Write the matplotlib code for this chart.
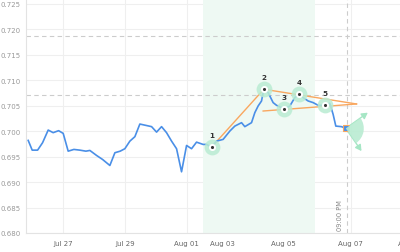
import numpy as np
import matplotlib
matplotlib.use('Agg')
import matplotlib.pyplot as plt
import matplotlib.transforms as mtransforms
from matplotlib.patches import Wedge

#------------------------------------------------------------------------------
# DATA (x in trading-day units on an ordinal axis, Jul 27 = 0)

price_x = [-1.129, -1.0, -0.826, -0.665, -0.484, -0.323, -0.148, 0.0, 0.161, 0.345,
           0.539, 0.732, 0.861, 1.077, 1.271, 1.506, 1.668, 1.839, 1.990, 2.152,
           2.313, 2.474, 2.668, 2.852, 3.013, 3.174, 3.335, 3.497, 3.658, 3.819,
           3.981, 4.142, 4.303, 4.516, 4.626, 4.787, 4.948, 5.161, 5.377, 5.539,
           5.755, 5.861, 6.077, 6.184, 6.290, 6.400, 6.474, 6.613, 6.774, 6.884,
           7.045, 7.129, 7.313, 7.474, 7.613, 7.742, 7.903, 8.065, 8.226, 8.442,
           8.603, 8.710, 8.797, 8.981, 9.119]
price_y = [0.69817, 0.69626, 0.69626, 0.69772, 0.70020, 0.69969, 0.70008, 0.69955, 0.69606, 0.69640,
           0.69626, 0.69606, 0.69620, 0.69522, 0.69443, 0.69325, 0.69575, 0.69606, 0.69654, 0.69803,
           0.69890, 0.70138, 0.70112, 0.70087, 0.69980, 0.70087, 0.69969, 0.69803, 0.69654, 0.69201,
           0.69718, 0.69654, 0.69783, 0.69738, 0.69738, 0.69685, 0.69803, 0.69837, 0.70000, 0.70098,
           0.70165, 0.70087, 0.70165, 0.70362, 0.70492, 0.70591, 0.70821, 0.70756, 0.70559, 0.70506,
           0.70461, 0.70427, 0.70492, 0.70657, 0.70722, 0.70657, 0.70591, 0.70559, 0.70506, 0.70506,
           0.70545, 0.70329, 0.70098, 0.70087, 0.70053]

# pattern points 1..5
pat_x = [4.787, 6.474, 7.129, 7.613, 8.442]
pat_y = [0.69685, 0.70821, 0.70427, 0.70722, 0.70506]
pat_lbl = ['1', '2', '3', '4', '5']
apex = (9.465, 0.70532)
low_line_start = (6.452, 0.70394)

# levels and zones
hlines = [0.71858, 0.70709]
zone = (4.503, 8.119)
cross_x = 9.152
cross_lbl = '09:00 PM'

tick_pos = [0, 2, 3.98, 5.14, 7.12, 9.28, 11.2]
tick_lbl = ['Jul 27', 'Jul 29', 'Aug 01', 'Aug 03', 'Aug 05', 'Aug 07', 'Aug 09']
yticks = [0.680, 0.685, 0.690, 0.695, 0.700, 0.705, 0.710, 0.715, 0.720, 0.725]

#------------------------------------------------------------------------------
# PLOT

plt.rcParams['font.family'] = ['DejaVu Sans']
fig = plt.figure(figsize=(4.0, 2.53), dpi=100)
ax = fig.add_axes([26/400., 19/253., 388/400., 234/253.])

ax.set_xlim(-1.20, 11.32)
ax.set_ylim(0.680, 0.72592)

blue = '#4a8fe7'
orange = '#f9a75f'
green = '#b9ecd2'

# grid
for t in yticks:
    ax.axhline(t, color='#efefef', lw=0.8, zorder=0)
for t in tick_pos:
    ax.axvline(t, color='#efefef', lw=0.8, zorder=0)

# highlight zone
ax.axvspan(zone[0], zone[1], color='#eef9f3', zorder=1, lw=0)

# dashed levels
for h in hlines:
    ax.axhline(h, color='#cccccc', lw=0.8, ls=(0, (4, 3)), zorder=2)

# crosshair
ax.axvline(cross_x, color='#cccccc', lw=0.8, ls=(0, (4, 3)), zorder=2)
ax.text(8.935, 0.6836, cross_lbl, rotation=90, ha='center', va='center',
        fontsize=4.8, color='#888888', zorder=3)

# price line
ax.plot(price_x, price_y, color=blue, lw=1.2, zorder=4, solid_joinstyle='round')

# pattern lines
ax.plot([pat_x[0], pat_x[1]], [pat_y[0], pat_y[1]], color=orange, lw=1.0, zorder=3)
ax.plot([pat_x[1], apex[0]], [pat_y[1], apex[1]], color=orange, lw=1.0, zorder=3)
ax.plot([low_line_start[0], apex[0]], [low_line_start[1], apex[1]], color=orange, lw=1.0, zorder=3)

# pattern markers
ax.scatter(pat_x, pat_y, s=130, color=green, alpha=0.85, lw=0, zorder=5)
ax.scatter(pat_x, pat_y, s=26, color='white', lw=0, zorder=6)
ax.scatter(pat_x, pat_y, s=5, color='#333333', lw=0, zorder=7)
for x, y, l in zip(pat_x, pat_y, pat_lbl):
    ax.annotate(l, (x, y), xytext=(0, 12), textcoords='offset pixels',
                ha='center', va='center', fontsize=5.2, color='#333333',
                fontweight='bold', zorder=7)

# projection wedge at last point
ax.plot(price_x[-1], price_y[-1], marker='s', ms=4.5, color=blue,
        mec=orange, mew=0.8, zorder=8)
cx, cy = ax.transData.transform((price_x[-1], price_y[-1]))
wedge = Wedge((cx, cy), 18, -55, 35, transform=mtransforms.IdentityTransform(),
              facecolor='#b9ecd2', edgecolor='none', alpha=0.9, zorder=3)
fig.patches.append(wedge)
for dx, dy in [(22, 15.7), (15.7, -22.7)]:
    ax.annotate('', xy=(price_x[-1], price_y[-1]), xytext=(dx, dy),
                textcoords='offset pixels',
                arrowprops=dict(arrowstyle='<|-,head_length=0.35,head_width=0.2',
                                color='#a6e6c5', lw=1.0, shrinkA=0, shrinkB=0),
                zorder=3)

# axes
ax.set_yticks(yticks)
ax.set_yticklabels(['%.3f' % t for t in yticks])
ax.set_xticks(tick_pos)
ax.set_xticklabels(tick_lbl)
ax.tick_params(axis='y', length=0, pad=4, labelsize=5.0, labelcolor='#999999')
ax.tick_params(axis='x', length=0, pad=5, labelsize=5.0, labelcolor='#666666')
for s in ['top', 'right']:
    ax.spines[s].set_visible(False)
for s in ['left', 'bottom']:
    ax.spines[s].set_color('#e3e3e3')
    ax.spines[s].set_linewidth(0.8)

fig.savefig('out.png', dpi=100)
